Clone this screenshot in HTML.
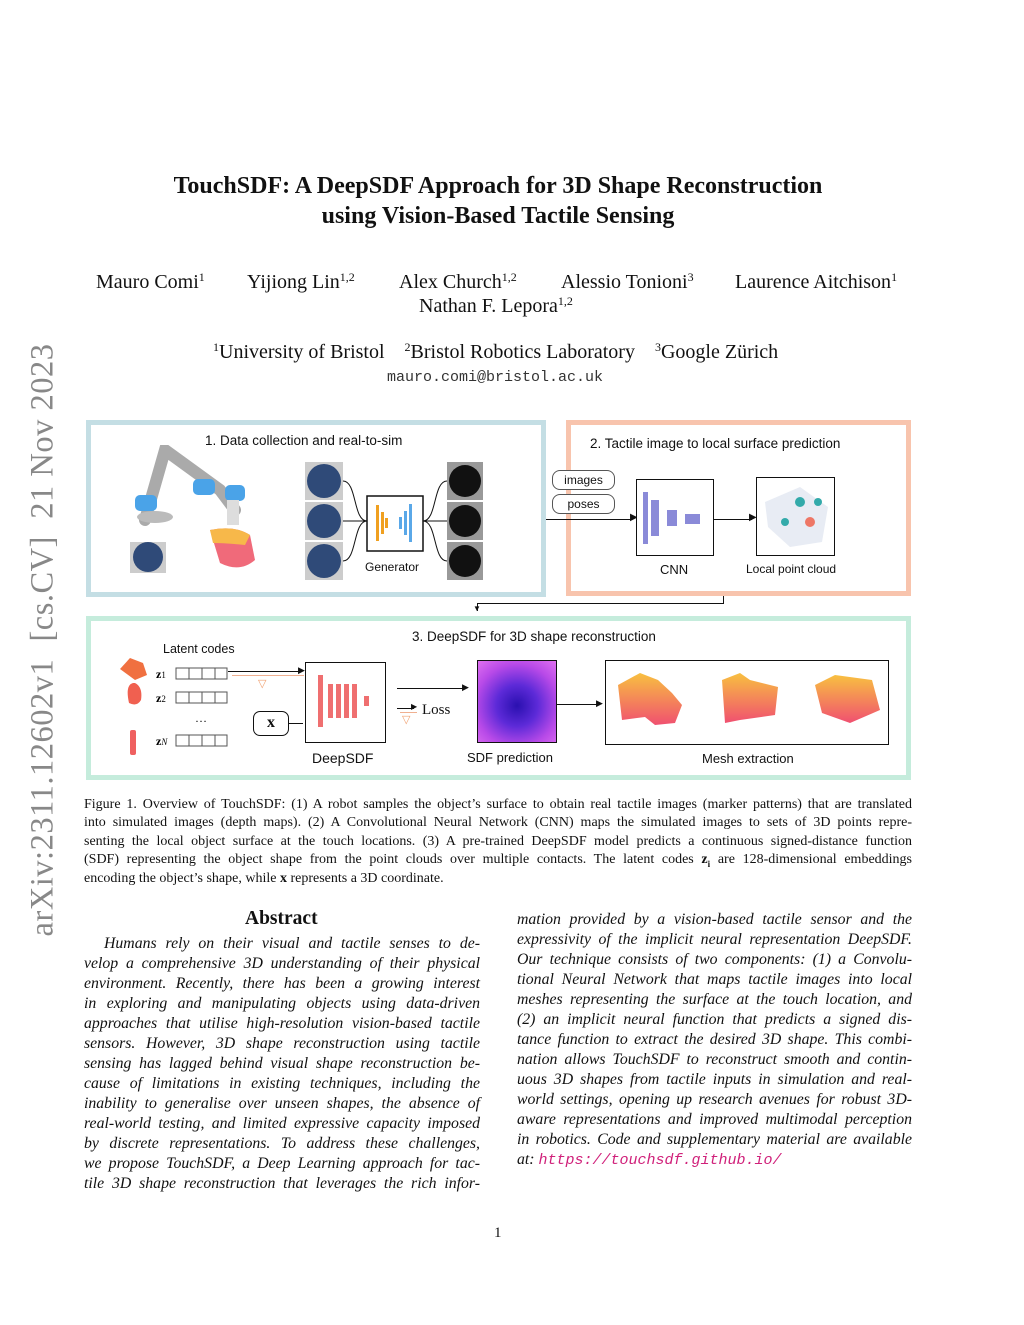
<!DOCTYPE html>
<html><head><meta charset="utf-8"><style>
body{margin:0;width:1024px;height:1325px;background:#fff;position:relative;font-family:"Liberation Serif",serif;color:#111;overflow:hidden}
.a{position:absolute;white-space:nowrap}
.s{font-family:"Liberation Sans",sans-serif}
.box{position:absolute;box-sizing:border-box;background:#fff}
.ln{position:absolute;background:#111}
.cap div{position:absolute;left:84px;width:828px;font-size:14px;text-align:justify;text-align-last:justify;white-space:nowrap;line-height:16px}
.abs div{position:absolute;font-size:15.8px;font-style:italic;line-height:18px;text-align:justify;text-align-last:justify;white-space:nowrap}
.L div{left:84px;width:396px}
.R div{left:517px;width:395px}
sup{font-size:12px;vertical-align:7px;line-height:0}
</style></head><body>
<div class="a" style="top:640px;transform:translate(-50%,-50%) rotate(-90deg);left:43px;font-size:32.5px;color:#888;letter-spacing:.5px">arXiv:2311.12602v1 &nbsp;[cs.CV] &nbsp;21 Nov 2023</div>

<div class="a" style="left:0;width:996px;text-align:center;top:173px;font-size:24px;font-weight:bold">TouchSDF: A DeepSDF Approach for 3D Shape Reconstruction</div>
<div class="a" style="left:0;width:996px;text-align:center;top:203px;font-size:24px;font-weight:bold">using Vision-Based Tactile Sensing</div>

<div class="a" style="left:96px;top:271px;font-size:20px">Mauro Comi<sup>1</sup></div>
<div class="a" style="left:247px;top:271px;font-size:20px">Yijiong Lin<sup>1,2</sup></div>
<div class="a" style="left:399px;top:271px;font-size:20px">Alex Church<sup>1,2</sup></div>
<div class="a" style="left:561px;top:271px;font-size:20px">Alessio Tonioni<sup>3</sup></div>
<div class="a" style="left:735px;top:271px;font-size:20px">Laurence Aitchison<sup>1</sup></div>
<div class="a" style="left:419px;top:295px;font-size:20px">Nathan F. Lepora<sup>1,2</sup></div>
<div class="a" style="left:213px;top:341px;font-size:20px"><sup>1</sup>University of Bristol &nbsp;&nbsp;&nbsp;<sup>2</sup>Bristol Robotics Laboratory &nbsp;&nbsp;&nbsp;<sup>3</sup>Google Zürich</div>
<div class="a" style="left:387px;top:369px;font-size:15px;font-family:'Liberation Mono',monospace;color:#333">mauro.comi@bristol.ac.uk</div>

<!-- Panel 1 -->
<div class="box" style="left:86px;top:420px;width:460px;height:177px;border:5px solid #c4dee4"></div>
<div class="a s" style="left:205px;top:433px;font-size:13.5px">1. Data collection and real-to-sim</div>
<svg class="a" style="left:125px;top:445px" width="140" height="130">
<path d="M20 75 L40 5 L95 45 L110 65" stroke="#aaa" stroke-width="12" fill="none" stroke-linecap="round"/>
<rect x="10" y="50" width="22" height="16" rx="5" fill="#4aa3e8"/>
<rect x="68" y="34" width="22" height="16" rx="5" fill="#4aa3e8"/>
<rect x="100" y="40" width="20" height="16" rx="5" fill="#4aa3e8"/>
<rect x="102" y="55" width="12" height="25" fill="#ddd"/>
<ellipse cx="30" cy="72" rx="18" ry="6" fill="#bbb"/>
<path d="M85 85 Q110 80 125 90 L130 115 Q115 128 95 118 Z" fill="#f06a7a"/>
<path d="M85 85 Q110 80 125 90 L120 100 Q100 98 88 98Z" fill="#f7b84a"/>
<rect x="5" y="97" width="36" height="31" fill="#ccc"/><circle cx="23" cy="112" r="15" fill="#2f4a78"/>
</svg>
<svg class="a" style="left:305px;top:462px" width="185" height="118">
<rect x="0" y="0" width="38" height="38" fill="#ccc"/><circle cx="19" cy="19" r="17" fill="#2f4a78"/>
<rect x="0" y="40" width="38" height="38" fill="#ccc"/><circle cx="19" cy="59" r="17" fill="#2f4a78"/>
<rect x="0" y="80" width="38" height="38" fill="#ccc"/><circle cx="19" cy="99" r="17" fill="#2f4a78"/>
<path d="M38 19 C52 19 48 59 62 59 M38 59 H62 M38 99 C52 99 48 59 62 59" stroke="#111" fill="none"/>
<rect x="62" y="34" width="56" height="55" fill="#fff" stroke="#111" stroke-width="1.5"/>
<rect x="71" y="43" width="3" height="36" fill="#f0a020"/><rect x="76" y="50" width="3" height="22" fill="#f0a020"/><rect x="80" y="56" width="3" height="10" fill="#f0a020"/>
<rect x="94" y="55" width="3" height="12" fill="#5aa8e8"/><rect x="99" y="49" width="3" height="24" fill="#5aa8e8"/><rect x="104" y="42" width="3" height="38" fill="#5aa8e8"/>
<path d="M118 59 C132 59 128 19 142 19 M118 59 H142 M118 59 C132 59 128 99 142 99" stroke="#111" fill="none"/>
<rect x="142" y="0" width="36" height="38" fill="#999"/><circle cx="160" cy="19" r="16" fill="#111"/>
<rect x="142" y="40" width="36" height="38" fill="#999"/><circle cx="160" cy="59" r="16" fill="#111"/>
<rect x="142" y="80" width="36" height="38" fill="#999"/><circle cx="160" cy="99" r="16" fill="#111"/>
</svg>
<div class="a s" style="left:365px;top:560px;font-size:12px">Generator</div>

<!-- Panel 2 -->
<div class="box" style="left:566px;top:420px;width:345px;height:176px;border:5px solid #f8c4ad"></div>
<div class="a s" style="left:590px;top:436px;font-size:13.5px">2. Tactile image to local surface prediction</div>
<div class="box s" style="left:552px;top:470px;width:63px;height:20px;border:1px solid #555;border-radius:8px;font-size:12px;text-align:center;line-height:18px">images</div>
<div class="box s" style="left:552px;top:494px;width:63px;height:20px;border:1px solid #555;border-radius:8px;font-size:12px;text-align:center;line-height:18px">poses</div>
<div class="ln" style="left:546px;top:519px;width:86px;height:1px"></div>
<div class="a" style="left:630px;top:512px;font-size:10px">▶</div>
<div class="box" style="left:636px;top:479px;width:78px;height:77px;border:1.5px solid #111"></div>
<svg class="a" style="left:640px;top:490px" width="70" height="55"><rect x="3" y="2" width="5" height="52" fill="#8a8ad8"/><rect x="11" y="10" width="8" height="36" fill="#8a8ad8"/><rect x="27" y="20" width="10" height="16" fill="#8a8ad8"/><rect x="45" y="24" width="15" height="10" fill="#8a8ad8"/></svg>
<div class="ln" style="left:714px;top:519px;width:38px;height:1px"></div>
<div class="a" style="left:749px;top:512px;font-size:10px">▶</div>
<div class="box" style="left:756px;top:477px;width:79px;height:79px;border:1.5px solid #111"></div>
<svg class="a" style="left:760px;top:482px" width="72" height="70"><path d="M5 20 L40 5 L68 25 L62 60 L30 65 L8 45Z" fill="#e8ecf4"/><circle cx="40" cy="20" r="5" fill="#3aa"/><circle cx="50" cy="40" r="5" fill="#e76"/><circle cx="25" cy="40" r="4" fill="#3aa"/><circle cx="58" cy="20" r="4" fill="#3aa"/></svg>
<div class="a s" style="left:660px;top:562px;font-size:13px">CNN</div>
<div class="a s" style="left:746px;top:562px;font-size:12px">Local point cloud</div>
<div class="ln" style="left:723px;top:596px;width:1px;height:8px"></div>
<div class="ln" style="left:477px;top:603px;width:247px;height:1px"></div>
<div class="ln" style="left:477px;top:603px;width:1px;height:8px"></div>
<div class="a" style="left:473px;top:604px;font-size:8px">▼</div>

<!-- Panel 3 -->
<div class="box" style="left:86px;top:616px;width:825px;height:164px;border:5px solid #c5ecdc;background:transparent"></div>
<div class="a s" style="left:412px;top:629px;font-size:13.5px">3. DeepSDF for 3D shape reconstruction</div>
<div class="a s" style="left:163px;top:642px;font-size:12.5px">Latent codes</div>
<svg class="a" style="left:115px;top:655px" width="120" height="105">
<path d="M5 14 L15 3 L28 8 L32 20 L20 25 Z" fill="#f07040"/><path d="M18 28 Q10 30 14 48 Q22 52 26 45 Q28 32 20 28Z" fill="#f06050"/>
<rect x="15" y="75" width="6" height="25" rx="2" fill="#ef6060"/>
<text x="41" y="23" font-size="12" font-weight="bold" font-family="Liberation Serif">z<tspan font-size="9" font-weight="normal">1</tspan></text>
<text x="41" y="47" font-size="12" font-weight="bold" font-family="Liberation Serif">z<tspan font-size="9" font-weight="normal">2</tspan></text>
<text x="80" y="67" font-size="12">…</text>
<text x="41" y="90" font-size="12" font-weight="bold" font-family="Liberation Serif">z<tspan font-size="9" font-style="italic" font-weight="normal">N</tspan></text>
<g fill="#fff" stroke="#555"><rect x="61" y="13" width="51" height="11"/><rect x="61" y="37" width="51" height="11"/><rect x="61" y="80" width="51" height="11"/></g>
<path d="M74 13v11M87 13v11M100 13v11M74 37v11M87 37v11M100 37v11M74 80v11M87 80v11M100 80v11" stroke="#555"/>
</svg>
<div class="ln" style="left:228px;top:671px;width:74px;height:1px"></div><div class="a" style="left:298px;top:665px;font-size:9px">▶</div>
<div class="ln" style="left:232px;top:675px;width:72px;height:1px;background:#f0b090"></div>
<div class="a" style="left:258px;top:677px;font-size:11px;color:#f0a070">▽</div>
<div class="box" style="left:253px;top:711px;width:36px;height:25px;border:1.5px solid #111;border-radius:7px;font-weight:bold;font-size:16px;text-align:center;line-height:21px">x</div>
<div class="ln" style="left:289px;top:723px;width:14px;height:1px"></div>
<div class="box" style="left:305px;top:662px;width:81px;height:81px;border:1.5px solid #111"></div>
<svg class="a" style="left:315px;top:672px" width="60" height="60"><g fill="#ef6f70"><rect x="3" y="3" width="5" height="52"/><rect x="13" y="12" width="5" height="34"/><rect x="21" y="12" width="5" height="34"/><rect x="29" y="12" width="5" height="34"/><rect x="37" y="12" width="5" height="34"/><rect x="49" y="24" width="5" height="10"/></g></svg>
<div class="a s" style="left:312px;top:750px;font-size:14px">DeepSDF</div>
<div class="ln" style="left:397px;top:688px;width:68px;height:1px"></div><div class="a" style="left:462px;top:682px;font-size:9px">▶</div>
<div class="ln" style="left:397px;top:708px;width:17px;height:1px"></div><div class="a" style="left:411px;top:702px;font-size:8px">▶</div>
<div class="ln" style="left:400px;top:712px;width:17px;height:1px;background:#f0b090"></div>
<div class="a" style="left:402px;top:713px;font-size:11px;color:#f0a070">▽</div>
<div class="a" style="left:422px;top:702px;font-size:15px">Loss</div>
<div class="box" style="left:477px;top:660px;width:80px;height:83px;border:1.5px solid #111;background:radial-gradient(circle at 50% 55%,#2a10b0 0%,#5d2ad8 35%,#b84ae8 70%,#e070f0 100%)"></div>
<div class="a s" style="left:467px;top:750px;font-size:13px">SDF prediction</div>
<div class="ln" style="left:557px;top:704px;width:43px;height:1px"></div><div class="a" style="left:596px;top:698px;font-size:9px">▶</div>
<div class="box" style="left:605px;top:660px;width:284px;height:85px;border:1.5px solid #111"></div>
<svg class="a" style="left:610px;top:665px" width="275" height="75">
<defs><linearGradient id="g" x1="0" y1="0" x2="0" y2="1"><stop offset="0" stop-color="#f8c040"/><stop offset="1" stop-color="#f05070"/></linearGradient></defs>
<path d="M8 20 L30 8 L48 15 L62 28 L72 40 L65 58 L45 60 L35 52 L12 55 Z" fill="url(#g)"/>
<path d="M112 15 L130 8 L140 15 L168 22 L165 50 L130 55 L115 58 Z" fill="url(#g)"/>
<path d="M205 20 L225 10 L262 15 L270 45 L240 58 L212 48 Z" fill="url(#g)"/>
</svg>
<div class="a s" style="left:702px;top:751px;font-size:13px">Mesh extraction</div>

<div class="cap">
<div style="top:797px">Figure 1. Overview of TouchSDF: (1) A robot samples the object’s surface to obtain real tactile images (marker patterns) that are translated</div>
<div style="top:815px">into simulated images (depth maps). (2) A Convolutional Neural Network (CNN) maps the simulated images to sets of 3D points repre-</div>
<div style="top:834px">senting the local object surface at the touch locations. (3) A pre-trained DeepSDF model predicts a continuous signed-distance function</div>
<div style="top:852px">(SDF) representing the object shape from the point clouds over multiple contacts. The latent codes <b>z</b><sub style="font-size:9px"><b>i</b></sub> are 128-dimensional embeddings</div>
<div style="top:871px;text-align-last:left">encoding the object’s shape, while <b>x</b> represents a 3D coordinate.</div>
</div>

<div class="a" style="left:245px;top:908px;font-size:19.5px;font-weight:bold">Abstract</div>
<div class="abs L">
<div style="top:935px;left:104px;width:376px">Humans rely on their visual and tactile senses to de-</div>
<div style="top:955px">velop a comprehensive 3D understanding of their physical</div>
<div style="top:975px">environment. Recently, there has been a growing interest</div>
<div style="top:995px">in exploring and manipulating objects using data-driven</div>
<div style="top:1015px">approaches that utilise high-resolution vision-based tactile</div>
<div style="top:1035px">sensors. However, 3D shape reconstruction using tactile</div>
<div style="top:1055px">sensing has lagged behind visual shape reconstruction be-</div>
<div style="top:1075px">cause of limitations in existing techniques, including the</div>
<div style="top:1095px">inability to generalise over unseen shapes, the absence of</div>
<div style="top:1115px">real-world testing, and limited expressive capacity imposed</div>
<div style="top:1135px">by discrete representations. To address these challenges,</div>
<div style="top:1155px">we propose TouchSDF, a Deep Learning approach for tac-</div>
<div style="top:1175px">tile 3D shape reconstruction that leverages the rich infor-</div>
</div>
<div class="abs R">
<div style="top:911px">mation provided by a vision-based tactile sensor and the</div>
<div style="top:931px">expressivity of the implicit neural representation DeepSDF.</div>
<div style="top:951px">Our technique consists of two components: (1) a Convolu-</div>
<div style="top:971px">tional Neural Network that maps tactile images into local</div>
<div style="top:991px">meshes representing the surface at the touch location, and</div>
<div style="top:1011px">(2) an implicit neural function that predicts a signed dis-</div>
<div style="top:1031px">tance function to extract the desired 3D shape. This combi-</div>
<div style="top:1051px">nation allows TouchSDF to reconstruct smooth and contin-</div>
<div style="top:1071px">uous 3D shapes from tactile inputs in simulation and real-</div>
<div style="top:1091px">world settings, opening up research avenues for robust 3D-</div>
<div style="top:1111px">aware representations and improved multimodal perception</div>
<div style="top:1131px">in robotics. Code and supplementary material are available</div>
<div style="top:1151px;text-align-last:left">at: <span style="font-family:'Liberation Mono',monospace;color:#d0207a;font-size:15px">https://touchsdf.github.io/</span></div>
</div>
<div class="a" style="left:494px;top:1225px;font-size:15px">1</div>
</body></html>
